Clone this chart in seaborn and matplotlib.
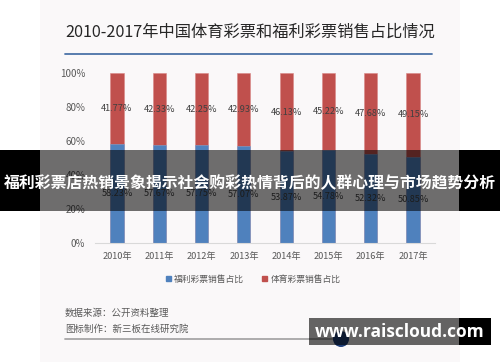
import matplotlib
matplotlib.use("Agg")
import matplotlib.pyplot as plt
import matplotlib.patches as mpatches
import pandas as pd
import seaborn as sns

years = ["2010年", "2011年", "2012年", "2013年", "2014年", "2015年", "2016年", "2017年"]
welfare = [58.23, 57.67, 57.75, 57.07, 53.87, 54.78, 52.32, 50.85]   # 福利彩票
sports = [41.77, 42.33, 42.25, 42.93, 46.13, 45.22, 47.68, 49.15]    # 体育彩票
yticks = [0, 20, 40, 60, 80, 100]

BLUE = "#4f81bd"
RED = "#c0504d"
GREY = "#595959"

sns.set_theme(style="white")
plt.rcParams["font.family"] = ["Noto Sans CJK SC", "DejaVu Sans"]

df = pd.DataFrame({"year": years, "welfare": welfare, "sports": sports})
df["total"] = df["welfare"] + df["sports"]

fig = plt.figure(figsize=(5, 3.62), dpi=100)
fig.patch.set_facecolor("white")

# background layer in pixel coordinates
bg = fig.add_axes([0, 0, 1, 1], zorder=0)
bg.set_xlim(0, 500)
bg.set_ylim(362, 0)
bg.axis("off")
bg.add_patch(mpatches.Rectangle((40, 0), 420, 362, color="#faf8f9", lw=0))
bg.text(65, 32, "2010-2017年中国体育彩票和福利彩票销售占比情况",
        fontsize=11.7, color="#262626", va="center", ha="left")
bg.plot([65, 432], [54, 54], color="#4a72a8", lw=1.3)
bg.text(65, 313, "数据来源：公开资料整理", fontsize=6.8, color=GREY, va="center")
bg.text(65, 329, "图标制作：新三板在线研究院", fontsize=6.8, color=GREY, va="center")
bg.plot([65, 340], [339, 339], color="#a6a6a6", lw=1.3)

# chart
ax = fig.add_axes([0.19, 0.3296, 0.68, 0.468], zorder=5)
ax.set_facecolor("none")
sns.barplot(data=df, x="year", y="total", color=RED, saturation=1,
            width=0.31, ax=ax, edgecolor="#d98886", linewidth=0.4)
sns.barplot(data=df, x="year", y="welfare", color=BLUE, saturation=1,
            width=0.31, ax=ax, edgecolor="#7fa2cf", linewidth=0.4)
ax.set_xlim(-0.52, 7.52)
ax.set_ylim(0, 100)
ax.set_yticks(yticks)
ax.set_yticklabels([f"{v}%" for v in yticks])
ax.tick_params(axis="both", length=0, labelcolor=GREY)
ax.tick_params(axis="y", pad=7, labelsize=7)
ax.tick_params(axis="x", pad=7, labelsize=6.6)
ax.set_xlabel("")
ax.set_ylabel("")
for s in ["top", "right", "left"]:
    ax.spines[s].set_visible(False)
ax.spines["bottom"].set_color("#d9d9d9")
ax.spines["bottom"].set_linewidth(0.8)

for i, (w, s) in enumerate(zip(welfare, sports)):
    ax.text(i, w / 2, f"{w:.2f}%", ha="center", va="center", fontsize=6.6, color="#404040")
    ax.text(i, w + s / 2, f"{s:.2f}%", ha="center", va="center", fontsize=6.6, color="#404040")

handles = [mpatches.Patch(color=BLUE, label="福利彩票销售占比"),
           mpatches.Patch(color=RED, label="体育彩票销售占比")]
fig.legend(handles=handles, loc="center", bbox_to_anchor=(253 / 500, 1 - 279 / 362),
           ncol=2, frameon=False, fontsize=6.3, handlelength=0.6, handleheight=0.6,
           handletextpad=0.4, columnspacing=2.0, labelcolor=GREY)

# overlay layer
fg = fig.add_axes([0, 0, 1, 1], zorder=10)
fg.set_xlim(0, 500)
fg.set_ylim(362, 0)
fg.axis("off")
fg.patch.set_alpha(0)
fg.add_patch(mpatches.Rectangle((0, 150), 40, 61, color="black", lw=0))
fg.add_patch(mpatches.Rectangle((459, 150), 41, 61, color="black", lw=0))
fg.add_patch(mpatches.Rectangle((40, 150), 419, 61, color="black", alpha=0.56, lw=0))
fg.text(250, 183, "福利彩票店热销景象揭示社会购彩热情背后的人群心理与市场趋势分析",
        fontsize=11.4, fontweight="bold", color="white", ha="center", va="center")
fg.add_patch(mpatches.Circle((341, 339), 8, color="#1f3f7a", lw=0))
fg.add_patch(mpatches.Rectangle((309, 318), 150, 27, color="black", alpha=0.6, lw=0))
fg.add_patch(mpatches.Rectangle((459, 318), 32, 27, color="black", lw=0))
fg.text(400, 332, "www.raiscloud.com", fontsize=12.5, fontweight="bold",
        color="white", ha="center", va="center", family=["Open Sans", "DejaVu Sans"])

fig.savefig("out.png", dpi=100)
